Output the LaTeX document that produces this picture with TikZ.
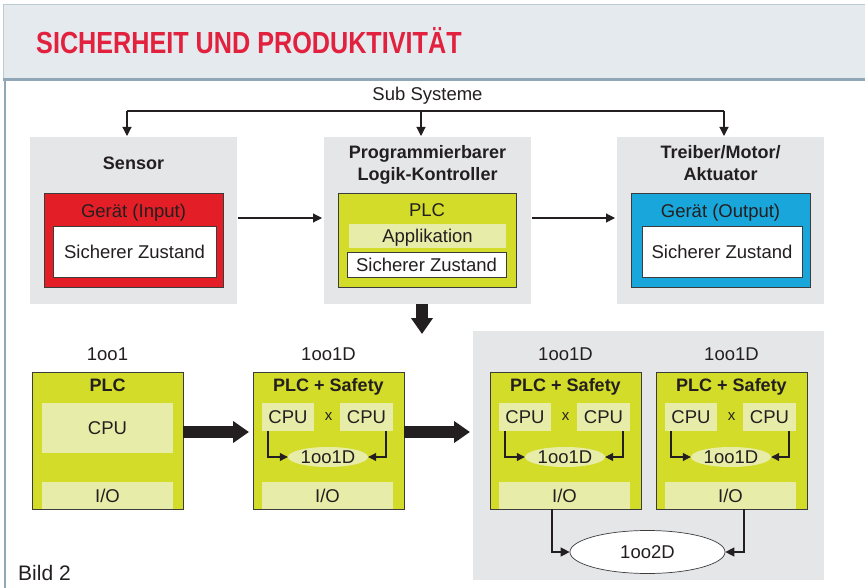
\documentclass[tikz,border=0pt]{standalone}
\usepackage{fontspec}
\setmainfont{Liberation Sans}
\newfontfamily\titlefont[FakeStretch=0.826]{Liberation Sans}
\usetikzlibrary{arrows.meta,shapes.geometric}
\definecolor{hdr}{HTML}{E5EAEF}
\definecolor{hdrline}{HTML}{8FA7B6}
\definecolor{boxgray}{HTML}{E5E6E8}
\definecolor{plcgreen}{HTML}{D3DC28}
\definecolor{lightgreen}{HTML}{E7EDA8}
\definecolor{devred}{HTML}{E41E26}
\definecolor{devblue}{HTML}{18A6DB}
\definecolor{txt}{HTML}{231F20}
\definecolor{titlered}{HTML}{E2213E}
\definecolor{edge}{HTML}{3C3C3C}
\newcommand\bx[6]{\node[#2,anchor=north west,inner sep=0,outer sep=0,minimum width=#5pt,minimum height=#6pt] (#1) at (#3,#4) {};}
\tikzset{
  graybox/.style={fill=boxgray,draw=none},
  redbox/.style={fill=devred,draw=edge,line width=0.6pt},
  bluebox/.style={fill=devblue,draw=edge,line width=0.6pt},
  greenbox/.style={fill=plcgreen,draw=edge,line width=0.7pt},
  whitebox/.style={fill=white,draw=edge,line width=1pt},
  band/.style={fill=lightgreen,draw=none},
  lbl/.style={inner sep=0,text height=13pt,text depth=0pt,font=\fontsize{18.5}{22}\selectfont,text=txt},
  blbl/.style={lbl,font=\fontsize{18}{22}\selectfont\bfseries},
  conn/.style={draw=txt,line width=1.1pt},
  tri/.style={-{Triangle[length=9pt,width=9pt]}},
  stri/.style={-{Triangle[length=8pt,width=8pt]}},
  bigarrow/.style={draw=txt,line width=11.5pt,-{Triangle[length=16pt,width=21pt]}},
  inell/.style={ellipse,fill=lightgreen,draw=none,inner sep=0,minimum width=80pt,minimum height=20pt,text=txt,font=\fontsize{18.5}{22}\selectfont},
}
\newcommand\safemod[3]{% #1 prefix, #2 x0, #3 label
  \node[lbl] (#1top) at (#2+75.5,354) {#3};
  \bx{#1}{greenbox}{#2}{372}{151}{137}
  \node[blbl] (#1t) at (#2+75.5,385) {PLC + Safety};
  \bx{#1cpuL}{band}{#2+9}{403}{52}{28}
  \node[lbl] (#1cpuLt) at (#1cpuL.center) {CPU};
  \bx{#1cpuR}{band}{#2+87}{403}{53}{28}
  \node[lbl] (#1cpuRt) at (#1cpuR.center) {CPU};
  \node[inner sep=0,text=txt,font=\fontsize{15}{18}\selectfont] (#1x) at (#2+75.5,417) {x};
  \node[inell] (#1ell) at (#2+75,457) {1oo1D};
  \bx{#1io}{band}{#2+9}{482}{131}{27}
  \node[lbl] (#1iot) at (#1io.center) {I/O};
  \draw[conn,stri] ([xshift=6pt]#1cpuL.south west) |- (#1ell.west);
  \draw[conn,stri] ([xshift=-7pt]#1cpuR.south east) |- (#1ell.east);
}
\begin{document}
\begin{tikzpicture}[x=1pt,y=-1pt]
\useasboundingbox (0,0) rectangle (865,588);
\fill[white] (0,0) rectangle (865,588);
% header
\fill[hdr] (3,4) rectangle (865,78);
\draw[hdrline!60,line width=0.6pt] (865,4) -- (3,4) -- (3,78);
\draw[hdrline,line width=3pt] (3,79.5) -- (865,79.5);
\draw[hdrline,line width=2pt] (5,78) -- (5,588);
\node[anchor=base west,inner sep=0,text=titlered,font=\titlefont\bfseries\fontsize{30.5}{34}\selectfont] (title) at (36,54) {SICHERHEIT UND PRODUKTIVITÄT};
% sub systeme
\node[lbl] (sub) at (427.5,94) {Sub Systeme};
\coordinate (sL) at (127,111);
\coordinate (sM) at (421,111);
\coordinate (sR) at (724,111);
% sensor
\bx{sens}{graybox}{30}{137}{207}{167}
\node[blbl] (senst) at (133.5,163) {Sensor};
\bx{sensdev}{redbox}{44}{193}{179}{94}
\node[lbl] (senslbl) at (133.5,211) {Gerät (Input)};
\bx{senssafe}{whitebox}{53}{227}{163}{50}
\node[lbl] (senssafet) at (senssafe.center) {Sicherer Zustand};
% plc
\bx{plc}{graybox}{324}{137}{207}{167}
\node[blbl] (plct1) at (427.5,152) {Programmierbarer};
\node[blbl] (plct2) at (427.5,174) {Logik-Kontroller};
\bx{plcdev}{greenbox}{338}{193}{178}{94}
\node[lbl] (plclbl) at (427,210) {PLC};
\bx{plcapp}{band}{349}{224}{157}{24}
\node[lbl] (plcappt) at (plcapp.center) {Applikation};
\bx{plcsafe}{whitebox}{347}{253}{159}{24}
\node[lbl] (plcsafet) at (plcsafe.center) {Sicherer Zustand};
% treiber
\bx{act}{graybox}{617}{137}{207}{167}
\node[blbl] (actt1) at (720.5,152) {Treiber/Motor/};
\node[blbl] (actt2) at (720.5,174) {Aktuator};
\bx{actdev}{bluebox}{631}{193}{179}{94}
\node[lbl] (actlbl) at (720.5,211) {Gerät (Output)};
\bx{actsafe}{whitebox}{642}{227}{160}{50}
\node[lbl] (actsafet) at (actsafe.center) {Sicherer Zustand};
% top connectors
\draw[conn] (sL) -- (sR);
\draw[conn,tri,shorten >=1pt] (sL) -- (sL |- sens.north);
\draw[conn,tri,shorten >=1pt] (sM) -- (sM |- plc.north);
\draw[conn,tri,shorten >=1pt] (sR) -- (sR |- act.north);
\draw[conn,tri,shorten <=1pt,shorten >=2pt] ([yshift=2.5pt]sens.east) -- ([yshift=2.5pt]plc.west);
\draw[conn,tri,shorten <=1pt,shorten >=2pt] ([yshift=2.5pt]plc.east) -- ([yshift=2.5pt]act.west);
% big down arrow
\coordinate (dtip) at (422,334);
\draw[bigarrow] (dtip |- plc.south) -- (dtip);
% bottom: right gray area
\bx{big}{graybox}{473}{331}{351}{249}
% module 1oo1
\node[lbl] (m1top) at (107.5,354) {1oo1};
\bx{m1}{greenbox}{32}{372}{151}{137}
\node[blbl] (m1t) at (107.5,385) {PLC};
\bx{m1cpu}{band}{42}{403}{131}{50}
\node[lbl] (m1cput) at (m1cpu.center) {CPU};
\bx{m1io}{band}{42}{482}{131}{27}
\node[lbl] (m1iot) at (m1io.center) {I/O};
% safety modules
\safemod{m2}{253}{1oo1D}
\safemod{mA}{490}{1oo1D}
\safemod{mB}{656}{1oo1D}
% big right arrows
\draw[bigarrow,shorten >=4pt] ([yshift=8.5pt]m1.east) -- ([yshift=8.5pt]m2.west);
\draw[bigarrow,shorten >=3pt] ([yshift=8.5pt]m2.east) -- ([yshift=8.5pt]m2.east -| big.west);
% 1oo2D
\node[ellipse,fill=white,draw=edge,line width=0.7pt,minimum width=155pt,minimum height=43pt,inner sep=0,text=txt,font=\fontsize{18.5}{22}\selectfont] (oo2) at (647.5,552) {1oo2D};
\draw[conn,tri] ([xshift=62pt]mA.south west) |- (oo2.west);
\draw[conn,tri] ([xshift=88pt]mB.south west) |- (oo2.east);
% caption
\node[anchor=base west,inner sep=0,text=txt,font=\fontsize{21}{24}\selectfont] (bild) at (18,580) {Bild 2};
\end{tikzpicture}
\end{document}
